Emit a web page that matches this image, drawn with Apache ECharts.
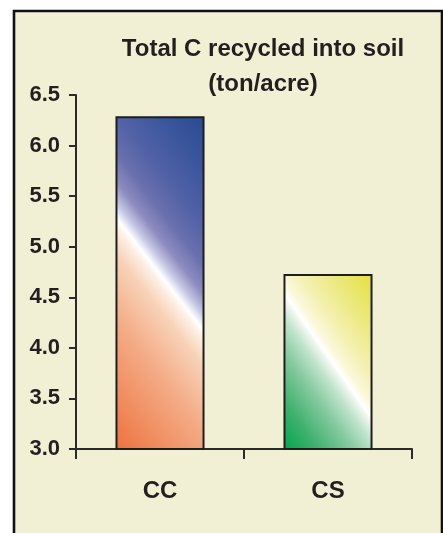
<!DOCTYPE html>
<html>
<head>
<meta charset="utf-8">
<script src="https://cdn.jsdelivr.net/npm/echarts@6/dist/echarts.min.js"></script>
<style>
html,body{margin:0;padding:0;background:#ffffff;}
#chart{width:443px;height:533px;}
</style>
</head>
<body>
<div id="chart"></div>
<script>
// ---- data ----
const titleLines = ['Total C recycled into soil', '(ton/acre)'];
const categories = ['CC', 'CS'];
const values = [6.29, 4.73];
const yMin = 3.0;
const yMax = 6.5;
const yStep = 0.5;

// ---- styles ----
const FONT = '"Liberation Sans", Arial, Helvetica, sans-serif';
const gradCC = {
  type: 'linear', x: -0.718, y: 0.752, x2: 1.718, y2: 0.248,
  colorStops: [
    {offset: 0.00, color: '#ee7040'},
    {offset: 0.12, color: '#f08a5c'},
    {offset: 0.30, color: '#f4ad88'},
    {offset: 0.44, color: '#f8d2b8'},
    {offset: 0.50, color: '#fdf0e6'},
    {offset: 0.52, color: '#ffffff'},
    {offset: 0.555, color: '#c4c6e2'},
    {offset: 0.60, color: '#8e8cc0'},
    {offset: 0.665, color: '#6a70ae'},
    {offset: 0.75, color: '#5262a6'},
    {offset: 0.88, color: '#3a559c'},
    {offset: 1.00, color: '#2a4a92'}
  ]
};
const gradCS = {
  type: 'linear', x: -0.303, y: 0.786, x2: 1.303, y2: 0.214,
  colorStops: [
    {offset: 0.00, color: '#00a650'},
    {offset: 0.16, color: '#3cb06c'},
    {offset: 0.33, color: '#86caa0'},
    {offset: 0.44, color: '#c0e4cc'},
    {offset: 0.50, color: '#eef6ee'},
    {offset: 0.52, color: '#ffffff'},
    {offset: 0.56, color: '#fbf8dc'},
    {offset: 0.65, color: '#f5f1b4'},
    {offset: 0.80, color: '#ece980'},
    {offset: 1.00, color: '#e3e13a'}
  ]
};
const barColors = [gradCC, gradCS];

const chart = echarts.init(document.getElementById('chart'), null, {renderer: 'canvas'});
chart.setOption({
  backgroundColor: '#ffffff',
  animation: false,
  graphic: [{
    type: 'rect', z: -10,
    shape: {x: 14, y: 11, width: 428, height: 600},
    style: {fill: '#f2f0d4', stroke: '#111111', lineWidth: 2.6}
  }],
  title: {
    text: titleLines.join('\n'),
    left: 258, top: 27, textAlign: 'center',
    textStyle: {fontFamily: FONT, fontWeight: 'bold', fontSize: 24, lineHeight: 35, color: '#231f20'}
  },
  grid: {left: 76, right: 31, top: 95, bottom: 84, containLabel: false},
  xAxis: {
    type: 'category', data: categories,
    boundaryGap: true,
    axisLine: {show: true, lineStyle: {color: '#2a2a2a', width: 2}},
    axisTick: {show: true, alignWithLabel: false, interval: 0, length: 10, lineStyle: {color: '#2a2a2a', width: 2}},
    axisLabel: {margin: 30, fontFamily: FONT, fontWeight: 'bold', fontSize: 24, color: '#231f20'}
  },
  yAxis: {
    type: 'value', min: yMin, max: yMax, interval: yStep,
    splitLine: {show: false},
    axisLine: {show: true, lineStyle: {color: '#2a2a2a', width: 2}},
    axisTick: {show: true, length: 7, lineStyle: {color: '#2a2a2a', width: 2}},
    axisLabel: {margin: 16, fontFamily: FONT, fontWeight: 'bold', fontSize: 22, color: '#231f20',
      formatter: v => v.toFixed(1)}
  },
  series: [{
    type: 'bar',
    barWidth: '53%',
    data: values.map((v, i) => ({value: v, itemStyle: {color: barColors[i]}})),
    itemStyle: {borderColor: '#1e1e1e', borderWidth: 2}
  }]
});
</script>
</body>
</html>
